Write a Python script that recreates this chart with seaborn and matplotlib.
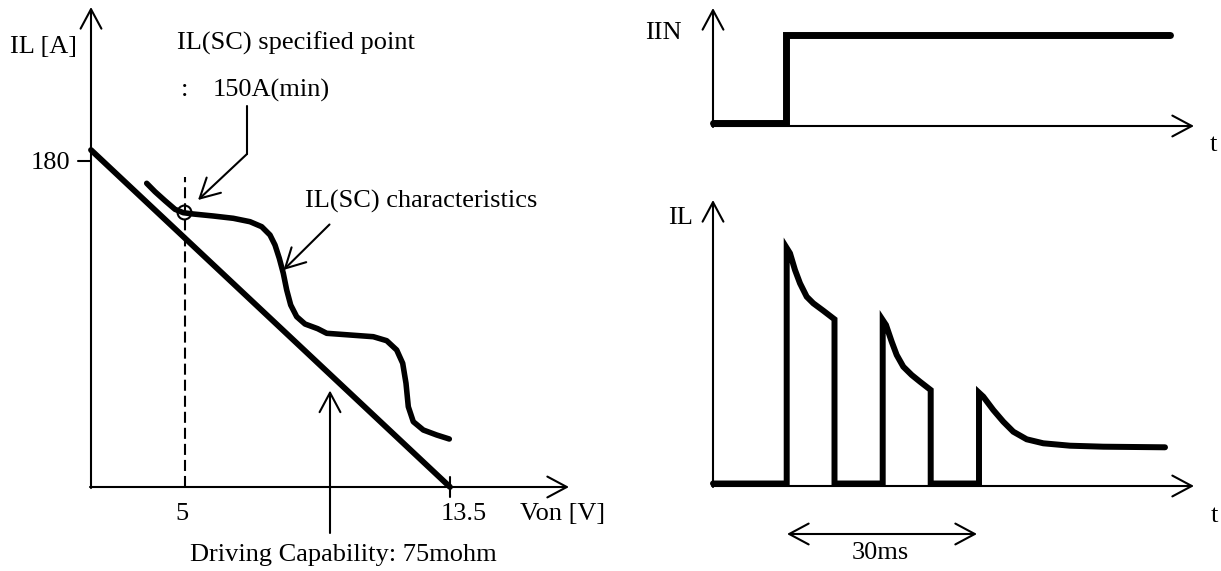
import matplotlib
matplotlib.use("Agg")
import matplotlib.pyplot as plt
import seaborn as sns

# ---- left: IL vs Von (schematic, units relative to the axis corner) ----
sc_von = [55.7, 64, 74, 84, 92.3, 102.3, 122.3, 142.3, 159, 170.7, 179, 184, 188.3, 192.3,
          195.7, 199.7, 205.7, 214, 226.7, 235.7, 259, 282.3, 295.7, 305.7, 311.7, 315,
          317.3, 322.3, 332.3, 345.7, 358.3]
sc_il = [303.7, 295.3, 286.3, 277.7, 274.3, 273, 271, 268.7, 265.3, 260.3, 252, 242, 228.7,
         213.7, 197, 182, 170.3, 163, 158.3, 153.7, 152, 150.3, 146.3, 137, 123.7, 103.7,
         80.3, 65.3, 57, 52, 48]
drive_von = [0, 359]
drive_il = [337, 0]
spec_point = (93, 275.3)
tick_180 = 326
tick_5 = 94
tick_135 = 359

# ---- right top: IIN step ----
iin_t = [0, 73, 73, 457]
iin_v = [3.5, 3.5, 91.5, 91.5]

# ---- right bottom: IL pulses ----
il_t = [0, 73.7, 73.7, 77, 82, 87, 93.7, 100.3, 110.3, 121.5, 121.5,
        169.7, 169.7, 173, 178.7, 183.7, 190.3, 198.7, 207, 217.7, 217.7,
        266, 266, 270.3, 280.3, 290.3, 300.3, 313.7, 330.3, 357, 390.3, 452]
il_v = [2.5, 2.5, 238, 232.7, 216, 202.7, 189.3, 182.7, 175.3, 166.7, 2.5,
        2.5, 166, 161, 144.3, 131, 119.3, 111, 104.3, 96, 2.5,
        2.5, 93.3, 89.3, 76, 64.3, 54.3, 46.7, 42.7, 40.3, 39.3, 38.7]

W, H = 1221, 571
sns.set_theme(style="white")
plt.rcParams["font.family"] = ["Liberation Serif", "DejaVu Serif"]
plt.rcParams["text.color"] = "black"
FS = 19

fig = plt.figure(figsize=(W / 100, H / 100), dpi=100)


def panel(ox, oy):
    ax = fig.add_axes([0, 0, 1, 1])
    ax.set_xlim(-ox, W - ox)
    ax.set_ylim(-(H - oy), oy)
    ax.axis("off")
    ax.patch.set_alpha(0)
    return ax


def arrow(ax, start, end, lw=1.5, style="->"):
    ax.annotate("", xy=end, xytext=start,
                arrowprops=dict(arrowstyle=style + ",head_length=1.4,head_width=0.75",
                                mutation_scale=10, lw=lw, color="black",
                                shrinkA=0, shrinkB=0))


# left panel
ax = panel(91, 487)
arrow(ax, (0, -1), (0, 480))
arrow(ax, (-1, 0), (478, 0))
ax.plot([-13, 0], [tick_180, tick_180], color="black", lw=1.5)
ax.plot([tick_135, tick_135], [-10, 10], color="black", lw=1.5)
ax.plot([tick_5, tick_5], [0, 310], color="black", lw=1.5, ls=(0, (5.3, 2.4)))
sns.lineplot(x=drive_von, y=drive_il, ax=ax, color="black", lw=4.2, sort=False)
sns.lineplot(x=sc_von, y=sc_il, ax=ax, color="black", lw=4, sort=False,
             estimator=None)
ax.plot(*spec_point, marker="o", ms=10, mfc="none", mec="black", mew=1.5)
ax.plot([156, 156], [381, 333], color="black", lw=1.5)
arrow(ax, (156, 333), (107, 287))
arrow(ax, (238.5, 262.5), (192.5, 217))
arrow(ax, (239, -46), (239, 96.5))

ax.text(-48, 440, "IL [A]", fontsize=FS, ha="center", va="center")
ax.text(86, 444, "IL(SC) specified point", fontsize=FS, ha="left", va="center")
ax.text(90, 397, ":", fontsize=FS, ha="left", va="center")
ax.text(122, 397, "150A(min)", fontsize=FS, ha="left", va="center")
ax.text(-21, tick_180 - 2, "180", fontsize=FS, ha="right", va="center")
ax.text(214, 286, "IL(SC) characteristics", fontsize=FS, ha="left", va="center")
ax.text(tick_5 - 3, -27, "5", fontsize=FS, ha="center", va="center")
ax.text(373, -27, "13.5", fontsize=FS, ha="center", va="center")
ax.text(429, -27, "Von [V]", fontsize=FS, ha="left", va="center")
ax.text(252, -68, "Driving Capability: 75mohm", fontsize=FS, ha="center", va="center")

# right top panel
ax2 = panel(713, 126)
arrow(ax2, (0, -1), (0, 118))
arrow(ax2, (-1, 0), (481, 0))
sns.lineplot(x=iin_t, y=iin_v, ax=ax2, color="black", lw=5, sort=False,
             estimator=None)
ax2.lines[-1].set_solid_joinstyle("miter")
ax2.text(-68, 93, "IIN", fontsize=FS, ha="left", va="center")
ax2.text(500, -19, "t", fontsize=FS, ha="center", va="center")

# right bottom panel
ax3 = panel(713, 486)
arrow(ax3, (0, -1), (0, 286))
arrow(ax3, (-1, 0), (481, 0))
sns.lineplot(x=il_t, y=il_v, ax=ax3, color="black", lw=4.3, sort=False,
             estimator=None)
ax3.lines[-1].set_solid_joinstyle("miter")
arrow(ax3, (74, -48), (264, -48), style="<->")
ax3.text(-45, 268, "IL", fontsize=FS, ha="left", va="center")
ax3.text(501, -30, "t", fontsize=FS, ha="center", va="center")
ax3.text(167, -67, "30ms", fontsize=FS, ha="center", va="center")

fig.savefig("out.png", dpi=100, facecolor="white")
